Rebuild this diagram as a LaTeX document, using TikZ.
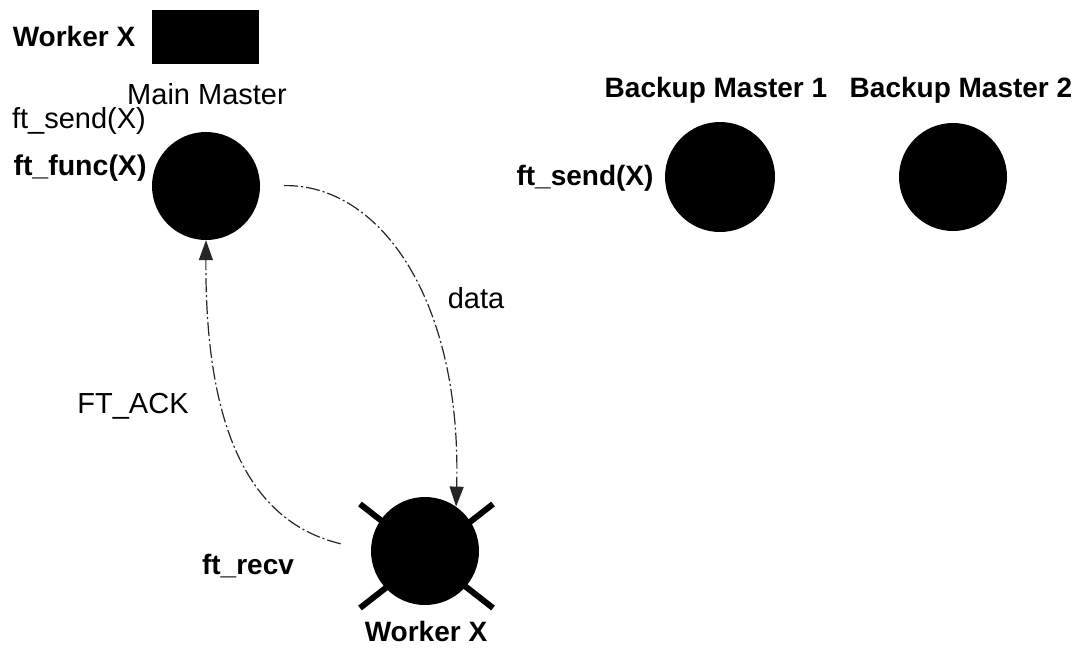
\documentclass[tikz,border=0pt]{standalone}
\usepackage{fontspec}
\setmainfont{Liberation Sans}
\usetikzlibrary{arrows.meta}
\begin{document}
\begin{tikzpicture}[x=1pt,y=-1pt,
  lbl/.style={font=\fontsize{29}{31}\selectfont, inner sep=0pt},
  blbl/.style={font=\fontsize{28}{30}\selectfont\bfseries, inner sep=0pt},
  ball/.style={circle, fill=black, inner sep=0pt},
  link/.style={line width=1.2pt, black!85, dash pattern=on 14pt off 3pt on 2pt off 3pt,
    -{Triangle[length=20pt,width=14pt]}},
  cross/.style={line width=6pt, black}]
\useasboundingbox (0,0) rectangle (1083,648);
% legend
\node[blbl] (legtext) at (74,36) {Worker X};
\node[fill=black, minimum width=107pt, minimum height=54pt, inner sep=0pt] (legbox) at (205.5,37) {};
% main master
\node[ball, minimum size=108pt] (mm) at (206,186) {};
\node[lbl] (mmlabel) at (207,94) {Main Master};
\node[lbl] (mmsend) at (79,121) {ft\_send(X)};
\node[blbl, font=\fontsize{28.5}{30}\selectfont\bfseries] (mmfunc) at (80,168) {ft\_func(X)};
% backups
\node[ball, minimum size=110pt] (b1) at (720,177) {};
\node[blbl] (b1label) at (716,90) {Backup Master 1};
\node[blbl] (b1send) at (585,178) {ft\_send(X)};
\node[ball, minimum size=108pt] (b2) at (953,177) {};
\node[blbl] (b2label) at (961,90) {Backup Master 2};
% worker
\draw[cross] (360,504) -- (493,608);
\draw[cross] (493,504) -- (360,608);
\node[ball, minimum size=108pt] (wx) at (425,551) {};
\node[blbl] (wxlabel) at (426,631) {Worker X};
% connectors
\draw[link, shorten <=24pt] (mm.east) .. controls (380,184) and (462,300) .. (wx.55);
\node[lbl] (datalabel) at (476,298) {data};
\draw[link, shorten <=31pt] (wx.west) .. controls (250,522) and (205,430) .. (mm.south);
\node[lbl] (acklabel) at (133,406) {FT\_ACK};
\node[blbl] (recvlabel) at (248,566) {ft\_recv};
\end{tikzpicture}
\end{document}
